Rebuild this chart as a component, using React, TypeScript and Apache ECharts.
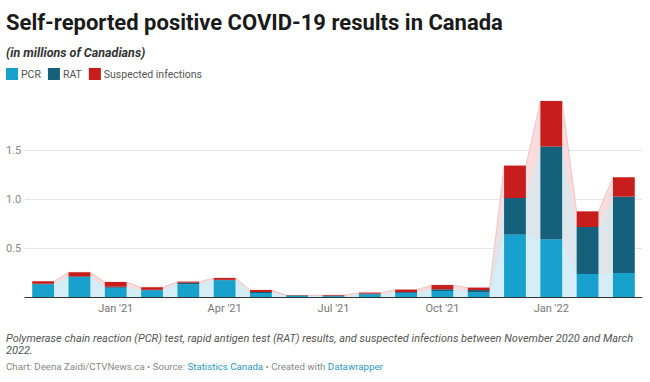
import React, { useEffect, useRef } from "react";
import * as echarts from "echarts";

const months = ["Nov '20", "Dec '20", "Jan '21", "Feb '21", "Mar '21", "Apr '21", "May '21", "Jun '21", "Jul '21", "Aug '21", "Sep '21", "Oct '21", "Nov '21", "Dec '21", "Jan '22", "Feb '22", "Mar '22"];
const pcr = [0.13, 0.204, 0.095, 0.068, 0.13, 0.17, 0.041, 0.01, 0.008, 0.027, 0.041, 0.061, 0.048, 0.637, 0.59, 0.235, 0.245];
const rat = [0.005, 0.005, 0.01, 0.005, 0.016, 0.005, 0.009, 0.005, 0.006, 0.008, 0.009, 0.017, 0.023, 0.373, 0.945, 0.479, 0.779];
const suspected = [0.025, 0.043, 0.047, 0.026, 0.01, 0.019, 0.021, 0.002, 0.006, 0.009, 0.025, 0.044, 0.024, 0.33, 0.465, 0.159, 0.197];
const yTicks = [0.5, 1.0, 1.5];
const xTickLabels = ["Jan '21", "Apr '21", "Jul '21", "Oct '21", "Jan '22"];

const FONT = "Roboto, 'Noto Sans', sans-serif";
const C_PCR = "#18a1cd";
const C_RAT = "#15607a";
const C_SUS = "#c71e1d";

export default function App() {
  const ref = useRef<HTMLDivElement>(null);
  useEffect(() => {
    if (!ref.current) return;
    const chart = echarts.init(ref.current, null, { renderer: "svg" });
    const c1 = pcr.map((v) => v);
    const c2 = pcr.map((v, i) => v + rat[i]);
    const c3 = pcr.map((v, i) => v + rat[i] + suspected[i]);
    const half = 0.3;
    const pts = (arr: number[]) => arr.flatMap((v, i) => [[i - half, v], [i + half, v]]);
    const areaSeries = (name: string, arr: number[], color: string, extra: any = {}) => ({
      name,
      type: "line",
      xAxisIndex: 1,
      yAxisIndex: 0,
      data: pts(arr),
      symbol: "none",
      silent: true,
      z: 1,
      lineStyle: { width: 0 },
      areaStyle: { color, opacity: 1 },
      ...extra,
    });
    chart.setOption({
      animation: false,
      textStyle: { fontFamily: FONT },
      grid: { left: 25, right: 8, top: 101, bottom: 85 },
      legend: {
        data: ["PCR", "RAT", "Suspected infections"],
        left: 1,
        top: 63,
        icon: "rect",
        itemWidth: 12,
        itemHeight: 12,
        itemGap: 7,
        selectedMode: false,
        textStyle: { fontSize: 10.5, color: "#555", fontFamily: FONT, padding: [0, 0, 0, -2] },
      },
      xAxis: [
        {
          type: "category",
          data: months,
          axisTick: { show: false },
          axisLine: { lineStyle: { color: "#333", width: 1 } },
          axisLabel: {
            interval: 0,
            margin: 6,
            fontSize: 11,
            color: "#777",
            fontFamily: FONT,
            formatter: (v: string) => (xTickLabels.includes(v) ? v : ""),
          },
        },
        { type: "value", min: -0.5, max: months.length - 0.5, show: false },
      ],
      yAxis: {
        type: "value",
        min: 0,
        max: 2,
        interval: 0.5,
        splitLine: { show: false },
        axisLine: { show: false },
        axisTick: { show: false },
        axisLabel: {
          align: "left",
          margin: 19,
          fontSize: 11,
          color: "#888",
          fontFamily: FONT,
          formatter: (v: number) => (yTicks.some((t) => Math.abs(t - v) < 1e-9) ? v.toFixed(1) : ""),
        },
      },
      series: [
        areaSeries("Suspected area", c3, "#fadcdc", {
          lineStyle: { width: 1, color: "rgba(199,30,29,0.18)" },
          markLine: {
            silent: true,
            z: 0,
            symbol: ["none", "none"],
            label: { show: false },
            lineStyle: { color: "#e6e6e6", width: 1, type: "solid" },
            data: yTicks.map((t) => ({ yAxis: t })),
          },
        }),
        areaSeries("RAT area", c2, "#dde6ea"),
        areaSeries("PCR area", c1, "#d5edf6"),
        { name: "PCR", type: "bar", stack: "total", barWidth: "60%", data: pcr, itemStyle: { color: C_PCR }, z: 3 },
        { name: "RAT", type: "bar", stack: "total", barWidth: "60%", data: rat, itemStyle: { color: C_RAT }, z: 3 },
        { name: "Suspected infections", type: "bar", stack: "total", barWidth: "60%", data: suspected, itemStyle: { color: C_SUS }, z: 3 },
      ],
      graphic: [
        {
          type: "text",
          left: 6,
          top: 11,
          style: { text: "Self-reported positive COVID-19 results in Canada", font: `bold 22px ${FONT}`, fill: "#1a1a1a" },
        },
        {
          type: "text",
          left: 6,
          top: 46,
          style: { text: "(in millions of Canadians)", font: `italic bold 12.5px ${FONT}`, fill: "#333" },
        },
        {
          type: "text",
          left: 6,
          top: 333,
          style: {
            text: "Polymerase chain reaction (PCR) test, rapid antigen test (RAT) results, and suspected infections between November 2020 and March",
            font: `italic 11px ${FONT}`,
            fill: "#555",
          },
        },
        {
          type: "text",
          left: 6,
          top: 345,
          style: { text: "2022.", font: `italic 11px ${FONT}`, fill: "#555" },
        },
        {
          type: "text",
          left: 6,
          top: 361,
          style: {
            text: "{a|Chart: Deena Zaidi/CTVNews.ca • Source: }{b|Statistics Canada}{a| • Created with }{b|Datawrapper}",
            rich: {
              a: { fontSize: 9.7, fontFamily: FONT, fill: "#888", color: "#888" },
              b: { fontSize: 9.7, fontFamily: FONT, fill: "#2a9ac4", color: "#2a9ac4" },
            },
          },
        },
      ],
    });
    return () => chart.dispose();
  }, []);
  return <div ref={ref} style={{ width: 650, height: 382, position: "absolute", left: 0, top: 0 }} />;
}
